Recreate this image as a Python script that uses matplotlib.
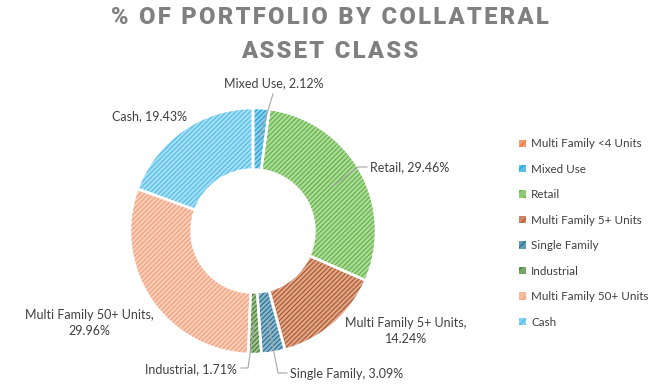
import matplotlib.pyplot as plt
import numpy as np
from matplotlib.colors import to_rgb

plt.rcParams['font.family'] = ['Lato', 'DejaVu Sans']
plt.rcParams['hatch.linewidth'] = 0.8

# data
categories = ["Multi Family <4 Units", "Mixed Use", "Retail", "Multi Family 5+ Units",
              "Single Family", "Industrial", "Multi Family 50+ Units", "Cash"]
shares = [0.00, 2.12, 29.46, 14.24, 3.09, 1.71, 29.96, 19.43]
colors = ["#E97132", "#1A9FD6", "#5DB33A", "#B4511F", "#1F6E93", "#3E7C28", "#F29C74", "#4DBDE9"]

TXT = "#404040"


def tint(c, amt):
    r, g, b = to_rgb(c)
    return (r + (1 - r) * amt, g + (1 - g) * amt, b + (1 - b) * amt)


fig = plt.figure(figsize=(6.52, 3.90), dpi=100)

# donut centre / radius in figure pixels
cx, cy, R = 253, 231, 123
ax = fig.add_axes([(cx - R) / 652, (390 - cy - R) / 390, 2 * R / 652, 2 * R / 390])

faces = [tint(c, 0.5) for c in colors]
wedges, _ = ax.pie(shares, startangle=90, counterclock=False, colors=faces, radius=1,
                   wedgeprops=dict(width=0.5, linewidth=0))
for w, c in zip(wedges, colors):
    w.set_edgecolor(c)
    w.set_hatch('///////')
    w.set_linewidth(0)
# white separators
ax.pie(shares, startangle=90, counterclock=False, colors=['none'] * len(shares), radius=1,
       wedgeprops=dict(width=0.5, linewidth=1.8, edgecolor='white'))
ax.set_xlim(-1, 1)
ax.set_ylim(-1, 1)
ax.set_aspect('equal')
ax.axis('off')


def px(x, y):
    return (x - cx) / R, (cy - y) / R


# mid-angle of each wedge (degrees, standard orientation)
cum = np.cumsum([0] + shares[:-1])
mids = [90 - 360 * (c + s / 2) / 100 for c, s in zip(cum, shares)]


def anchor(i, r=0.75):
    a = np.deg2rad(mids[i])
    return r * np.cos(a), r * np.sin(a)


def leader(i, pts):
    x0, y0 = anchor(i)
    xs = [x0] + [px(*p)[0] for p in pts]
    ys = [y0] + [px(*p)[1] for p in pts]
    ax.plot(xs, ys, color="#A6A6A6", lw=0.8, clip_on=False)


def lbl(i):
    return f"{categories[i]}, {shares[i]:.2f}%"


kw = dict(fontsize=9, color=TXT, clip_on=False)

# Mixed Use
leader(1, [(273, 94)])
ax.text(*px(274, 83), lbl(1), ha='center', va='center', **kw)
# Retail
leader(2, [(358, 167), (367, 167)])
ax.text(*px(370, 167), lbl(2), ha='left', va='center', **kw)
# Multi Family 5+
ax.text(*px(406, 331), f"{categories[3]},\n{shares[3]:.2f}%", ha='center', va='center',
        linespacing=1.45, **kw)
# Single Family
leader(4, [(278, 373), (287, 373)])
ax.text(*px(290, 374), lbl(4), ha='left', va='center', **kw)
# Industrial
leader(5, [(248, 368), (241, 368)])
ax.text(*px(237, 369), lbl(5), ha='right', va='center', **kw)
# Multi Family 50+
ax.text(*px(89, 323), f"{categories[6]},\n{shares[6]:.2f}%", ha='center', va='center',
        linespacing=1.45, **kw)
# Cash
ax.text(*px(150, 116), lbl(7), ha='center', va='center', **kw)

# legend
handles = [plt.Rectangle((0, 0), 1, 1, facecolor=tint(c, 0.3), edgecolor=c, hatch='///', linewidth=0)
           for c in colors]
fig.legend(handles, categories, loc='center left', bbox_to_anchor=(508 / 652, 1 - 233 / 390),
           frameon=False, fontsize=8.4, labelcolor=TXT, handlelength=0.6, handleheight=0.6,
           handletextpad=0.5, labelspacing=1.24)

title_kw = dict(ha='center', va='center', fontsize=17, fontweight='heavy', color="#808080",
                family=['Roboto', 'DejaVu Sans'])
sp = '\u200a'
fig.text(330 / 652, 1 - 18 / 390, sp.join("% OF PORTFOLIO BY COLLATERAL"), **title_kw)
fig.text(330 / 652, 1 - 51 / 390, sp.join("ASSET CLASS"), **title_kw)

fig.savefig("out.png", dpi=100)
